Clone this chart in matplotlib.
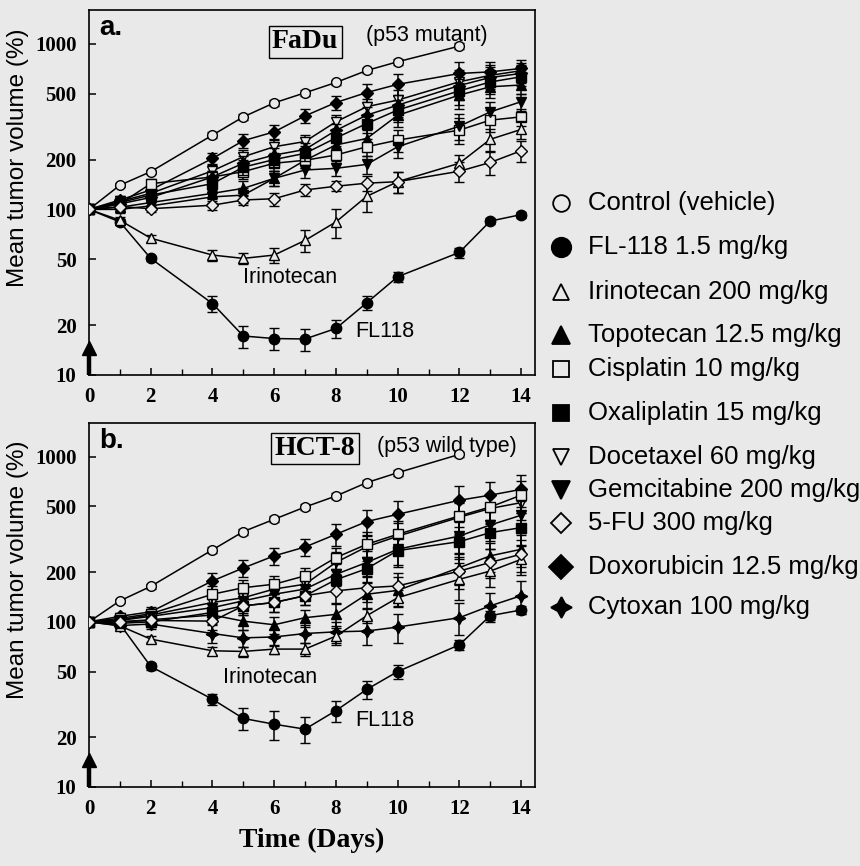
import matplotlib
matplotlib.use('Agg')
import matplotlib.pyplot as plt
import numpy as np

# ---- data (percent of day-0 volume) ----
days = [0, 1, 2, 4, 5, 6, 7, 8, 9, 10, 12, 13, 14]
ctrl_days = [0, 1, 2, 4, 5, 6, 7, 8, 9, 10, 12]

labels = ['Control (vehicle)', 'FL-118 1.5 mg/kg', 'Irinotecan 200 mg/kg',
          'Topotecan 12.5 mg/kg', 'Cisplatin 10 mg/kg', 'Oxaliplatin 15 mg/kg',
          'Docetaxel 60 mg/kg', 'Gemcitabine 200 mg/kg', '5-FU 300 mg/kg',
          'Doxorubicin 12.5 mg/kg', 'Cytoxan 100 mg/kg']

# panel a: FaDu
a_control = [100, 140, 169, 281, 362, 440, 506, 584, 690, 779, 968]
a_fl118 = [100, 84, 50.6, 27, 17.2, 16.6, 16.5, 19.1, 27.3, 39.2, 55, 85, 93]
a_irino = [100, 86, 67, 53, 50.6, 53, 65, 84, 120, 147, 190, 265, 304]
a_topo = [100, 103, 110, 125, 134, 154, 198, 245, 268, 370, 490, 550, 564]
a_cispl = [100, 108, 143, 157, 169, 190, 198, 213, 239, 262, 301, 346, 362]
a_oxali = [100, 110, 122, 143, 180, 200, 218, 270, 330, 398, 520, 588, 632]
a_docet = [100, 112, 125, 171, 208, 239, 257, 338, 417, 457, 590, 645, 688]
a_gemci = [100, 100, 105, 119, 122, 154, 173, 177, 187, 239, 318, 388, 447]
a_5fu = [100, 104, 101, 106, 114, 116, 131, 138, 144, 147, 170, 192, 226]
a_doxo = [100, 114, 131, 203, 260, 294, 367, 442, 508, 569, 662, 677, 710]
a_cytox = [100, 108, 118, 157, 190, 213, 230, 300, 371, 426, 560, 626, 662]

# panel b: HCT-8
b_control = [100, 134, 164, 273, 352, 418, 496, 578, 697, 800, 1033]
b_fl118 = [100, 97, 53.7, 34, 26, 24, 22.4, 29, 39, 50, 72.6, 109, 118]
b_irino = [100, 94.6, 78.6, 66.8, 66.2, 68.4, 68.4, 82, 109, 140, 181, 203, 239]
b_topo = [100, 100, 103, 110, 101, 96, 106, 111, 147, 155, 213, 251, 275]
b_cispl = [100, 105, 112, 147, 161, 169, 190, 245, 295, 339, 438, 496, 585]
b_oxali = [100, 98, 100, 114, 125, 131, 144, 180, 210, 270, 306, 347, 372]
b_docet = [100, 103, 110, 131, 140, 158, 169, 229, 285, 330, 430, 486, 527]
b_gemci = [100, 102, 108, 122, 134, 147, 158, 194, 229, 275, 331, 386, 442]
b_5fu = [100, 100, 102, 101, 125, 131, 144, 154, 161, 165, 203, 229, 257]
b_doxo = [100, 108, 115, 177, 212, 251, 284, 339, 405, 448, 545, 585, 634]
b_cytox = [100, 95, 97, 85, 80, 81, 85, 87, 88, 93, 106, 125, 144]

# relative error bars (fraction of mean)
err_ctrl = [0, .03, .03, .04, .04, .04, .04, .04, .04, .04, .04]
err_fl_a = [0, .04, .04, .11, .15, .15, .15, .13, .10, .07, .07, .04, .04]
err_ir_a = [0, .04, .05, .08, .08, .10, .15, .20, .20, .15, .12, .15, .12]
err_mid_a = [0, .05, .06, .08, .10, .10, .10, .10, .12, .15, .18, .15, .12]
err_fu_a = [0, .04, .05, .06, .07, .09, .08, .07, .10, .15, .14, .16, .15]
err_fl_b = [0, .04, .05, .08, .15, .20, .18, .15, .12, .10, .07, .06, .06]
err_ir_b = [0, .04, .04, .06, .07, .06, .09, .12, .10, .12, .25, .20, .20]
err_mid_b = [0, .05, .07, .12, .12, .12, .12, .15, .18, .20, .22, .20, .22]

BG = '#e9e9e9'
SANS = 'Liberation Sans'
SERIF = 'Liberation Serif'

markers = ['o', 'o', '^', '^', 's', 's', 'v', 'v', 'D', 'D', (4, 1, 0)]
filled = [False, True, False, True, False, True, False, True, False, True, True]
msizes = [7, 7.5, 7, 7, 7, 7, 7, 7, 6, 6.5, 9]

fig = plt.figure(figsize=(8.6, 8.66), dpi=100)
fig.patch.set_facecolor(BG)

ax_a = fig.add_axes([89 / 860, 1 - 375 / 866, 446 / 860, 365 / 866])
ax_b = fig.add_axes([89 / 860, 1 - 787 / 866, 446 / 860, 364 / 866])

panel_a = [a_control, a_fl118, a_irino, a_topo, a_cispl, a_oxali,
           a_docet, a_gemci, a_5fu, a_doxo, a_cytox]
panel_b = [b_control, b_fl118, b_irino, b_topo, b_cispl, b_oxali,
           b_docet, b_gemci, b_5fu, b_doxo, b_cytox]
errs_a = [err_ctrl, err_fl_a, err_ir_a] + [err_mid_a] * 5 + [err_fu_a] + [err_mid_a] * 2
errs_b = [err_ctrl, err_fl_b, err_ir_b] + [err_mid_b] * 8


def draw_panel(ax, series, errs, letter, cell, note, cell_xy, note_xy,
               iri_xy, fl_xy):
    ax.set_facecolor(BG)
    for i, vals in enumerate(series):
        x = ctrl_days if i == 0 else days
        y = np.array(vals)
        e = y * np.array(errs[i])
        ax.errorbar(x, y, yerr=e, color='black', lw=1.1, elinewidth=1.1,
                    capsize=3.5, capthick=1.1, marker=markers[i],
                    ms=msizes[i], mec='black', mew=1.0,
                    mfc='black' if filled[i] else BG, zorder=3 + i % 3)
    ax.set_yscale('log')
    ax.set_ylim(10, 1600)
    ax.set_xlim(0, 14.45)
    ax.set_yticks([10, 20, 50, 100, 200, 500, 1000])
    ax.set_yticklabels(['10', '20', '50', '100', '200', '500', '1000'])
    ax.yaxis.set_minor_locator(matplotlib.ticker.NullLocator())
    ax.set_xticks(range(0, 15, 2))
    ax.set_xticks(range(1, 15, 2), minor=True)
    ax.tick_params(direction='in', length=5, width=1.1, pad=9, labelsize=15)
    ax.tick_params(which='minor', direction='in', length=4, width=1.0)
    for lbl in ax.get_xticklabels() + ax.get_yticklabels():
        lbl.set_family(SERIF)
        lbl.set_fontweight('bold')
    for sp in ax.spines.values():
        sp.set_linewidth(1.2)
    # dosing arrow at day 0
    ax.plot([0, 0], [10, 14.0], color='black', lw=3.2, solid_capstyle='butt',
            clip_on=False, zorder=7)
    ax.plot([0], [14.6], marker='^', ms=10, color='black', clip_on=False,
            zorder=7)
    ax.text(0.022, 0.985, letter, transform=ax.transAxes, ha='left', va='top',
            family=SANS, fontsize=20, fontweight='bold')
    ax.text(cell_xy[0], cell_xy[1], cell, ha='center', va='center',
            family=SERIF, fontsize=20, fontweight='bold',
            bbox=dict(boxstyle='square,pad=0.12', fc=BG, ec='black', lw=1.0))
    ax.text(note_xy[0], note_xy[1], note, ha='center', va='center',
            family=SANS, fontsize=15.5, zorder=2)
    ax.text(iri_xy[0], iri_xy[1], 'Irinotecan', ha='left', va='center',
            family=SANS, fontsize=15.5)
    ax.text(fl_xy[0], fl_xy[1], 'FL118', ha='left', va='center',
            family=SANS, fontsize=15.5)


draw_panel(ax_a, panel_a, errs_a, 'a.', 'FaDu', '(p53 mutant)',
           (7.0, 1030), (10.95, 1130), (5.0, 39), (8.62, 18.2))
draw_panel(ax_b, panel_b, errs_b, 'b.', 'HCT-8', '(p53 wild type)',
           (7.32, 1120), (11.6, 1150), (4.33, 46), (8.62, 25.2))

ax_b.set_xlabel('Time (Days)', family=SERIF, fontsize=20, fontweight='bold',
                labelpad=6)

for yc in (158 / 866, 570 / 866):
    fig.text(18 / 860, 1 - yc, 'Mean tumor volume (%)', rotation=90,
             ha='center', va='center', family=SANS, fontsize=17.5)

# legend drawn in figure pixel space
lax = fig.add_axes([0, 0, 1, 1], facecolor='none')
lax.set_xlim(0, 860)
lax.set_ylim(866, 0)
lax.axis('off')
leg_y = [203, 247, 292, 335, 369, 413, 457, 490, 523, 567, 607]
leg_ms = [12, 14, 12, 13, 12, 12, 11, 13, 10, 12, 15]
for i, lab in enumerate(labels):
    lax.plot([561], [leg_y[i]], marker=markers[i], ms=leg_ms[i], mec='black',
             mew=1.3, mfc='black' if filled[i] else BG, ls='none')
    lax.text(588, leg_y[i], lab, ha='left', va='center', family=SANS,
             fontsize=18.5)

fig.savefig('out.png', dpi=100, facecolor=BG)
